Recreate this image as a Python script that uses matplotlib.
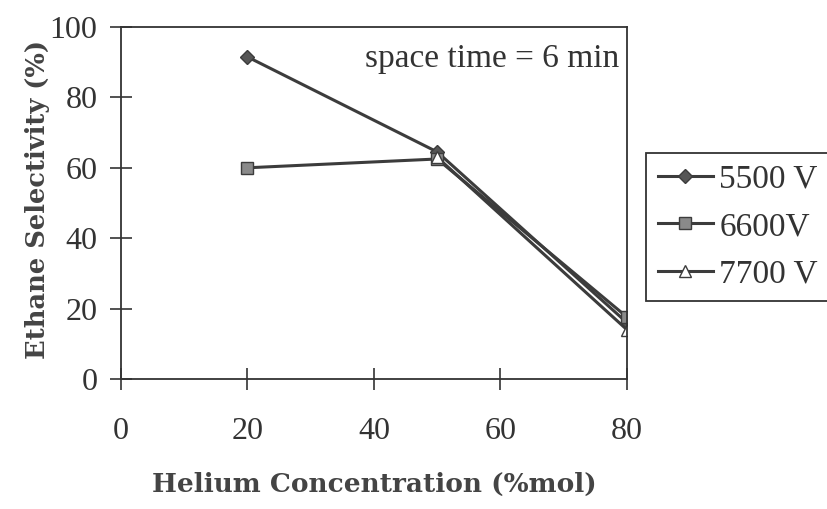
import numpy as np
import matplotlib.pyplot as plt

# data
helium = [20, 50, 80]
sel_5500 = [91.5, 64.5, 16]
sel_6600 = [60, 62.5, 17.6]
sel_7700 = [np.nan, 63, 14]
series_labels = ['5500 V', '6600V', '7700 V']

plt.rcParams['font.family'] = ['Liberation Serif', 'DejaVu Serif']

fig = plt.figure(figsize=(8.27, 5.09), dpi=100)
ax = fig.add_axes([0.1463, 0.2554, 0.6118, 0.6916])

line_c = '#3c3c3c'
ax.plot(helium, sel_5500, color=line_c, lw=2.2, marker='D', ms=7,
        mfc='#555555', mec=line_c, label=series_labels[0])
ax.plot(helium, sel_6600, color=line_c, lw=2.2, marker='s', ms=8,
        mfc='#8a8a8a', mec=line_c, label=series_labels[1])
ax.plot(helium, sel_7700, color=line_c, lw=2.2, marker='^', ms=8,
        mfc='white', mec=line_c, label=series_labels[2])

ax.set_xlim(0, 80)
ax.set_ylim(0, 100)
ax.set_xticks([0, 20, 40, 60, 80])
ax.set_yticks([0, 20, 40, 60, 80, 100])
ax.tick_params(direction='inout', length=16, width=1.2, labelsize=23,
               colors='#333333')
ax.tick_params(axis='x', pad=19)
ax.tick_params(axis='y', pad=9)
for s in ax.spines.values():
    s.set_color('#333333')
    s.set_linewidth(1.3)

ax.set_xlabel('Helium Concentration (%mol)', fontsize=19, fontweight='bold',
              family=['DejaVu Serif'], color='#444444')
ax.xaxis.set_label_coords(0.5, -0.265)
ax.set_ylabel('Ethane Selectivity (%)', fontsize=18.5, fontweight='bold',
              family=['DejaVu Serif'], color='#444444')
ax.yaxis.set_label_coords(-0.14, 0.51)

ax.text(0.985, 0.91, 'space time = 6 min', transform=ax.transAxes,
        ha='right', va='center', fontsize=24, color='#333333')

leg = fig.legend(loc='upper left', bbox_to_anchor=(0.781, 0.70),
                 fontsize=24, handlelength=1.65, handletextpad=0.2,
                 labelspacing=0.5, borderpad=0.35, borderaxespad=0,
                 fancybox=False, edgecolor='#333333', framealpha=1)
leg.get_frame().set_linewidth(1.3)
for t in leg.get_texts():
    t.set_color('#333333')

plt.savefig('out.png', dpi=100)
